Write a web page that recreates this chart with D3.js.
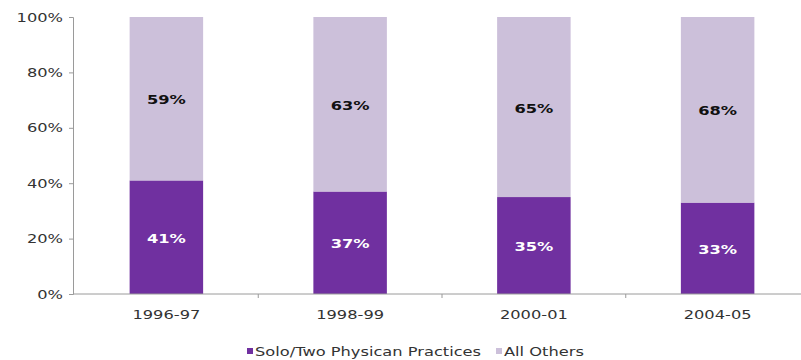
<!DOCTYPE html>
<html>
<head>
<meta charset="utf-8">
<script src="https://cdn.jsdelivr.net/npm/d3@7"></script>
<style>
  html, body { margin: 0; padding: 0; background: #fff; }
  svg { display: block; }
</style>
</head>
<body>
<svg id="chart" width="801" height="360"></svg>
<script>
// Share of practices by period (percent)
const categories = ["1996-97", "1998-99", "2000-01", "2004-05"];
const soloTwo = [41, 37, 35, 33];
const allOthers = [59, 63, 65, 68];
const seriesNames = ["Solo/Two Physican Practices", "All Others"];
const yTicks = [0, 20, 40, 60, 80, 100];

const colors = ["#7030a0", "#ccc0da"];
const labelColors = ["#ffffff", "#111111"];

const FONT = "DejaVu Sans, Verdana, sans-serif";
const SX = 1.25; // horizontal widening of the lettering

const svg = d3.select("#chart");
const W = 801, H = 360;
const plotTop = 17, plotBottom = 294, plotLeft = 73;

const x = d3.scaleBand()
  .domain(categories)
  .range([74.5, 809.5])
  .paddingInner(0.6)
  .paddingOuter(0.3);

const y = d3.scaleLinear().domain([0, 100]).range([plotBottom, plotTop]);

// place a text at (px, py) with wide lettering
function place(sel, px, py) {
  sel.attr("x", 0).attr("y", 0)
    .attr("transform", (d, i) => {
      const a = typeof px === "function" ? px(d, i) : px;
      const b = typeof py === "function" ? py(d, i) : py;
      return `translate(${a},${b}) scale(${SX},1)`;
    });
}

const rows = categories.map((c, i) => ({ cat: c, v: [soloTwo[i], allOthers[i]] }));

// stacked segments; the upper segment always reaches 100%
const segs = [];
rows.forEach(r => {
  segs.push({ cat: r.cat, s: 0, y0: 0, y1: r.v[0], val: r.v[0] });
  segs.push({ cat: r.cat, s: 1, y0: r.v[0], y1: 100, val: r.v[1] });
});

const g = svg.append("g");

g.selectAll("rect.seg")
  .data(segs)
  .join("rect")
  .attr("class", "seg")
  .attr("x", d => x(d.cat))
  .attr("width", x.bandwidth())
  .attr("y", d => y(d.y1))
  .attr("height", d => y(d.y0) - y(d.y1))
  .attr("fill", d => colors[d.s]);

g.selectAll("text.val")
  .data(segs)
  .join("text")
  .attr("class", "val")
  .attr("dy", "0.35em")
  .attr("text-anchor", "middle")
  .attr("font-family", FONT)
  .attr("font-weight", "bold")
  .attr("font-size", 13)
  .attr("fill", d => labelColors[d.s])
  .text(d => d.val + "%")
  .call(place, d => x(d.cat) + x.bandwidth() / 2, d => (y(d.y0) + y(d.y1)) / 2 + 1);

// y axis
const yAxis = d3.axisLeft(y)
  .tickValues(yTicks)
  .tickFormat(d => d + "%")
  .tickSize(4)
  .tickPadding(6);

const ya = svg.append("g")
  .attr("transform", `translate(${plotLeft},0)`)
  .call(yAxis);
ya.select(".domain").attr("stroke", "#9a9a9a");
ya.selectAll(".tick line").attr("stroke", "#9a9a9a");
ya.selectAll(".tick text")
  .attr("font-family", FONT)
  .attr("font-size", 13)
  .attr("fill", "#333")
  .attr("x", -10 / SX)
  .attr("transform", `scale(${SX},1)`);

// x axis: line with ticks on category boundaries
const xa = svg.append("g").attr("transform", `translate(0,${plotBottom})`);
xa.append("line")
  .attr("x1", plotLeft).attr("x2", W)
  .attr("stroke", "#9a9a9a");
const step = x.step();
xa.selectAll("line.bt")
  .data(categories.slice(1))
  .join("line")
  .attr("class", "bt")
  .attr("x1", d => x(d) - (step - x.bandwidth()) / 2)
  .attr("x2", d => x(d) - (step - x.bandwidth()) / 2)
  .attr("y1", 0).attr("y2", 4)
  .attr("stroke", "#9a9a9a");
xa.selectAll("text.cat")
  .data(categories)
  .join("text")
  .attr("class", "cat")
  .attr("text-anchor", "middle")
  .attr("font-family", FONT)
  .attr("font-size", 13)
  .attr("fill", "#333")
  .text(d => d)
  .call(place, d => x(d) + x.bandwidth() / 2, 25);

// legend
const legend = svg.append("g").attr("transform", "translate(0,356)");
const legendX = [247, 496];
seriesNames.forEach((name, i) => {
  legend.append("rect")
    .attr("x", legendX[i]).attr("y", -8)
    .attr("width", 6).attr("height", 6)
    .attr("fill", colors[i]);
  legend.append("text")
    .attr("font-family", FONT)
    .attr("font-size", 13)
    .attr("fill", "#333")
    .text(name)
    .call(place, legendX[i] + 8, 0);
});
</script>
</body>
</html>
